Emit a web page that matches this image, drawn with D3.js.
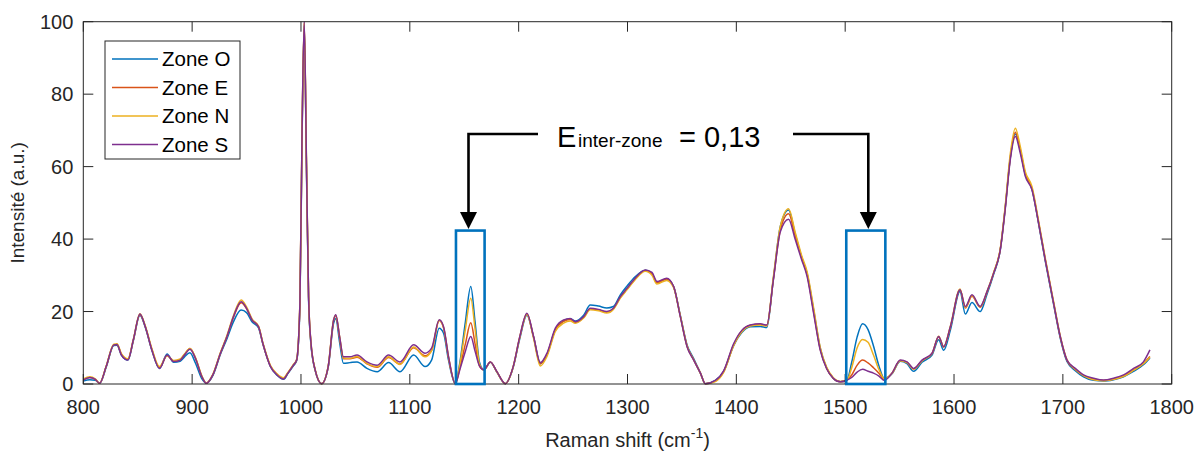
<!DOCTYPE html>
<html><head><meta charset="utf-8">
<script src="https://cdn.jsdelivr.net/npm/d3@7"></script>
<style>body{margin:0;background:#fff}svg{display:block;font-family:"Liberation Sans",Arial,sans-serif}</style>
</head><body><svg id="c" width="1204" height="453"></svg>
<script>
const wavenumbers=[800,806,811,815,821,828,831,835,841,846,852,857,863,870,877,883,889,893,898,903,909,913,919,926,932,938,945,950,955,961,965,972,978,984,988,993,996,999,1001,1003,1005,1007,1009,1013,1019,1025,1030,1032,1035.5,1039,1045,1051.5,1060.6,1070,1080.5,1091,1103.5,1114,1120,1127,1131,1135.6,1141.8,1146,1151,1156,1160,1164,1168,1174,1180,1187.7,1195,1201,1207.6,1213.7,1219.9,1226,1233.7,1241.3,1247.4,1252,1259.7,1265.8,1273.4,1281,1287,1293.4,1299.5,1307,1316.4,1322.5,1327,1336,1342.4,1348.5,1354.7,1360.8,1367,1371.5,1380.7,1388.3,1397.5,1405,1412.8,1422,1428,1434,1440.4,1448,1454,1460,1465,1471,1477,1483,1489,1495.5,1501.7,1506,1511,1516,1521,1526,1531,1536,1543,1550.6,1556.8,1562.9,1570.6,1579.8,1585.9,1590.5,1596.6,1605.5,1610.4,1616.5,1624,1630.3,1636.4,1642.5,1647,1651.7,1656.3,1660.9,1665.5,1671.6,1677.7,1683.8,1691.5,1697.6,1703.8,1711.4,1719,1728.2,1737.4,1746.6,1755.8,1765,1774,1780];
const zoneS=[1.1,1.8,1.3,0.2,4.8,10.8,10.9,8.0,6.6,12.2,19.3,15.8,9.4,4.3,8.0,6.2,6.6,8.0,9.6,7.1,2.0,0.2,2.5,8.5,13.1,18.6,22.7,20.9,17.7,15.8,11.2,4.8,2.5,1.4,3.0,5.2,6.6,22,70,100,62,24,12,3.9,0.1,4.8,17.7,19.1,13.1,7.5,7.5,8.0,6.1,5.2,8.0,6.1,10.8,8.5,9.9,17.7,15.8,7.5,0.1,4,9,13.1,9,5,3.9,6.1,3.4,0.1,4.8,13,19.5,13.1,5.9,8.5,15.4,17.7,18.1,17.2,18.6,20.9,20.6,20.0,20.9,24.1,26.4,29.2,31.5,30.8,28.3,29.2,26.9,18.6,10.3,6.6,3.0,0.1,1.0,3.6,11.1,14.8,16.3,16.6,16.3,28.7,42.0,45.5,40.0,34.3,29.7,19.5,9.4,4.2,1.6,0.6,1.1,1.8,3.3,4.1,3.5,3.0,2.2,1.0,3.0,6.6,6.1,4.3,6.6,8.5,13.1,10.3,15.8,26.0,21.4,24.6,21.4,25.5,30.6,37.0,48.1,61.9,68.3,63.7,57.3,53.6,44.4,34.3,22.3,13.1,6.6,4.3,2.5,1.6,1.1,1.6,2.5,4.3,6.1,9.4];
const zoneO=[0.8,1.2,1.0,0.2,4.6,10.6,10.7,8.0,6.6,12.0,19.0,15.6,9.3,4.3,8.3,6.0,6.3,7.5,8.6,5.8,1.4,0.2,2.3,8.2,12.5,17.2,20.4,19.7,17.2,15.5,11.0,4.8,2.4,1.3,2.9,5.0,6.4,21,68,99,60,23,11.5,3.8,0.1,4.6,16.8,18.0,11.5,5.7,5.9,6.1,4.3,3.4,5.9,3.4,8.0,4.8,6.6,15.4,14.0,6.5,0.1,6,17,26.9,17,6,3.9,6.0,3.3,0.1,4.6,12.5,19.0,13.0,5.6,8.0,15.0,17.4,18.0,17.4,19.0,21.8,21.5,21.0,21.4,24.6,27.0,29.6,31.4,30.4,28.0,29.0,26.8,19.0,10.8,7.0,3.0,0.1,1.0,3.4,10.6,14.2,15.8,15.9,15.6,29.0,43.5,48.0,41.5,35.0,30.5,20.5,10.0,4.4,1.6,0.6,1.1,6,13,16.6,15,10.5,5,1.5,2.8,6.3,5.6,3.5,6.0,8.0,12.2,9.3,14.8,25.5,19.3,22.5,20.0,24.8,30.3,37.0,48.5,62.5,69.0,64.5,57.8,53.8,44.3,34.0,22.0,12.7,6.2,3.7,2.0,1.0,0.8,1.2,2.0,3.5,5.3,7.2];
const zoneE=[1.2,1.8,1.3,0.2,4.8,10.8,10.9,8.2,6.8,12.2,19.2,15.8,9.5,4.5,7.9,6.3,6.7,8.1,9.8,7.2,2.0,0.2,2.5,8.5,13.1,18.4,22.4,20.8,17.7,15.8,11.2,4.9,2.6,1.5,3.1,5.2,6.6,22,69,99.5,61,24,12,3.9,0.1,4.8,17.5,18.8,12.8,7.0,7.0,7.4,5.6,4.6,7.3,5.5,10.0,7.8,9.2,17.5,15.5,7.2,0.1,4.5,11,16.9,11,5,3.9,6.1,3.4,0.1,4.8,13,19.4,13.0,5.6,8.2,15.0,17.3,17.8,17.0,18.4,20.7,20.4,19.8,20.8,23.9,26.2,29.0,31.3,30.4,28.0,29.0,26.8,18.8,10.5,6.7,3.0,0.1,0.8,3.4,10.8,14.6,16.2,16.5,16.2,28.8,42.5,47.0,41.0,34.8,30.2,20.0,9.7,4.3,1.6,0.6,1.1,2.5,5.2,6.6,5.8,4.5,3,1.2,3.0,6.5,6.0,4.2,6.5,8.4,13.0,10.2,15.6,26.0,21.0,24.2,21.2,25.3,30.6,37.2,48.5,62.5,69.5,64.5,58.0,54.0,44.6,34.4,22.4,13.0,6.5,4.0,2.3,1.3,1.0,1.3,2.2,3.9,5.7,7.6];
const zoneN=[1.4,2.0,1.4,0.2,4.9,11.0,11.1,8.4,7.0,12.3,19.4,16.0,9.8,4.8,7.8,6.5,6.9,8.3,9.8,7.3,2.2,0.3,2.7,8.7,13.4,18.9,23.2,21.3,18.0,16.0,11.4,5.1,2.8,1.7,3.2,5.4,6.8,22,70,99.8,62,24,12,4.0,0.1,4.9,17.8,19.0,13.0,7.2,7.1,7.6,5.7,4.8,7.5,5.4,10.2,7.5,9.2,17.6,15.6,7.4,0.1,5.5,15,23.7,15,5.5,3.9,6.0,3.3,0.1,4.7,12.8,19.2,12.6,5.0,7.6,14.5,16.8,17.4,16.8,18.2,20.5,20.2,19.6,20.6,23.7,26.0,28.8,31.1,30.0,27.6,28.6,26.6,18.8,10.5,6.7,3.0,0.1,0.7,3.2,10.6,14.4,16.0,16.3,16.0,29.5,43.5,48.4,42.0,35.5,31.0,21.0,10.2,4.6,1.8,0.7,1.1,4.5,10,12.3,11.5,8,4,1.5,2.9,6.4,5.9,4.1,6.4,8.4,13.2,10.3,15.9,26.2,21.2,24.4,21.3,25.5,30.8,37.4,49.0,63.5,70.6,65.5,58.6,54.5,45.0,34.8,22.7,13.3,6.7,4.1,2.3,1.2,0.9,1.3,2.1,3.8,5.6,7.4];
const seriesNames=["Zone O","Zone E","Zone N","Zone S"];
const seriesColors=["#0072BD","#D95319","#EDB120","#7E2F8E"];
const xTicks=[800,900,1000,1100,1200,1300,1400,1500,1600,1700,1800];
const yTicks=[0,20,40,60,80,100];
const highlightRanges=[[1142.4,1168.7],[1501,1536.9]];
const highlightTop=42.35;

const svg=d3.select("#c");
const L=83.3,T=21.7,R=1171.7,B=384;
const x=d3.scaleLinear().domain([800,1800]).range([L,R]);
const y=d3.scaleLinear().domain([0,100]).range([B,T]);
const axisCol="#262626";
const series=[zoneO,zoneE,zoneN,zoneS];

const line=d3.line().x((d,i)=>x(wavenumbers[i])).y(d=>y(d)).curve(d3.curveMonotoneX);
series.forEach((s,k)=>{
  svg.append("path").datum(s).attr("d",line).attr("fill","none")
    .attr("stroke",seriesColors[k]).attr("stroke-width",1.5).attr("stroke-linejoin","round");
});

const g=svg.append("g");
const tl=10;
g.append("rect").attr("x",L).attr("y",T).attr("width",R-L).attr("height",B-T)
  .attr("fill","none").attr("stroke",axisCol).attr("stroke-width",1);
xTicks.forEach(t=>{
  g.append("line").attr("x1",x(t)).attr("x2",x(t)).attr("y1",B).attr("y2",B-tl).attr("stroke",axisCol);
  g.append("line").attr("x1",x(t)).attr("x2",x(t)).attr("y1",T).attr("y2",T+tl).attr("stroke",axisCol);
  g.append("text").attr("x",x(t)).attr("y",B+30).attr("text-anchor","middle")
    .attr("font-size",20).attr("fill",axisCol).text(t);
});
yTicks.forEach(t=>{
  g.append("line").attr("x1",L).attr("x2",L+tl).attr("y1",y(t)).attr("y2",y(t)).attr("stroke",axisCol);
  g.append("line").attr("x1",R).attr("x2",R-tl).attr("y1",y(t)).attr("y2",y(t)).attr("stroke",axisCol);
  g.append("text").attr("x",L-10).attr("y",y(t)+7).attr("text-anchor","end")
    .attr("font-size",20).attr("fill",axisCol).text(t);
});
const xt=g.append("text").attr("x",(L+R)/2).attr("y",447).attr("text-anchor","middle")
  .attr("font-size",20).attr("fill",axisCol);
xt.append("tspan").text("Raman shift (cm");
xt.append("tspan").attr("dy",-9).attr("font-size",14).text("-1");
xt.append("tspan").attr("dy",9).text(")");
g.append("text").attr("transform",`translate(24,${(T+B)/2}) rotate(-90)`).attr("text-anchor","middle")
  .attr("font-size",19).attr("fill",axisCol).text("Intensité (a.u.)");

highlightRanges.forEach(r=>{
  svg.append("rect").attr("x",x(r[0])).attr("y",y(highlightTop)).attr("width",x(r[1])-x(r[0]))
    .attr("height",y(0)-y(highlightTop)).attr("fill","none").attr("stroke","#0072BD").attr("stroke-width",2.6);
});

const ay=134, tip=229;
const ax1=468.5, ax2=868.3;
svg.append("path").attr("d",`M538,${ay}H${ax1}V${tip-16}`).attr("fill","none").attr("stroke","#000").attr("stroke-width",2.6);
svg.append("path").attr("d",`M793,${ay}H${ax2}V${tip-16}`).attr("fill","none").attr("stroke","#000").attr("stroke-width",2.6);
[ax1,ax2].forEach(a=>{
  svg.append("path").attr("d",`M${a-8.5},${tip-17}L${a+8.5},${tip-17}L${a},${tip}Z`).attr("fill","#000");
});
const at=svg.append("text").attr("y",147).attr("fill","#000");
at.append("tspan").attr("x",557).attr("font-size",29).text("E");
at.append("tspan").attr("x",578).attr("font-size",19).text("inter-zone");
at.append("tspan").attr("x",679).attr("font-size",29).text("= 0,13");

const lg=svg.append("g");
lg.append("rect").attr("x",105).attr("y",41).attr("width",135).attr("height",118)
  .attr("fill","#fff").attr("stroke",axisCol).attr("stroke-width",1);
seriesNames.forEach((n,k)=>{
  const yy=59+k*28.5;
  lg.append("line").attr("x1",112).attr("x2",158).attr("y1",yy).attr("y2",yy)
    .attr("stroke",seriesColors[k]).attr("stroke-width",1.6);
  lg.append("text").attr("x",162).attr("y",yy+7).attr("font-size",20.5).attr("fill","#000").text(n);
});
</script></body></html>
